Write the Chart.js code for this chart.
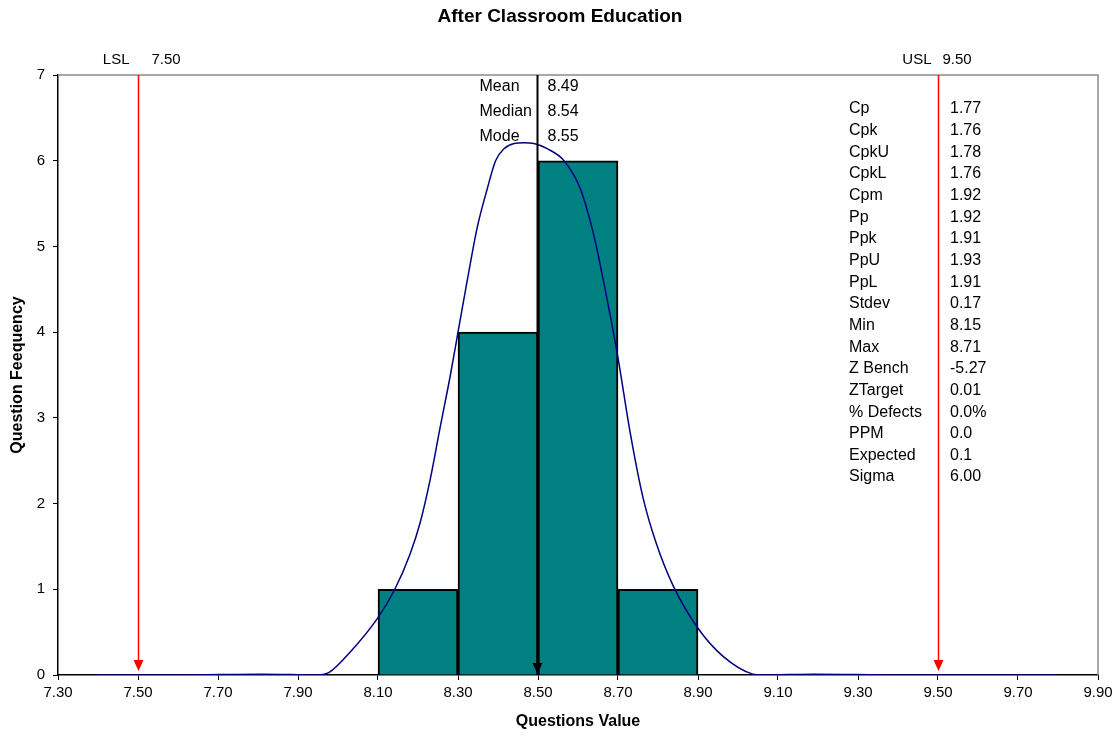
<!DOCTYPE html>
<html>
<head>
<meta charset="utf-8">
<title>After Classroom Education</title>
<script src="https://cdn.jsdelivr.net/npm/chart.js@4.4.1/dist/chart.umd.min.js"></script>
<style>
    html, body { margin: 0; padding: 0; background: #fff; }
    #wrap { width: 1120px; height: 736px; }
</style>
</head>
<body>
<div id="wrap"><canvas id="histChart" width="1120" height="736"></canvas></div>
<script>
// данные гистограммы
const binCenters = [8.2, 8.4, 8.6, 8.8];
const binCounts = [1, 4, 6, 1];

// кривая нормального распределения
const curveX = [7.40, 7.60, 7.81, 7.95, 7.978, 8.029, 8.10, 8.142, 8.18, 8.205, 8.23, 8.255, 8.281, 8.30, 8.323, 8.348, 8.373, 8.394, 8.415, 8.44, 8.465, 8.49,
                8.523, 8.565, 8.606, 8.639, 8.672, 8.70, 8.73, 8.763, 8.796, 8.838, 8.90, 8.962, 9.037, 9.06, 9.19, 9.40, 9.60, 9.80];
const curveY = [0, 0, 0.01, 0, 0.03, 0.26, 0.67, 1.0, 1.41, 1.77, 2.27, 2.88, 3.50, 4.0, 4.60, 5.22, 5.67, 6.0, 6.14, 6.20, 6.21, 6.20,
                6.14, 6.0, 5.67, 5.14, 4.40, 3.70, 2.84, 2.06, 1.53, 1.04, 0.545, 0.22, 0.01, 0, 0.01, 0, 0, 0];

const xTicks = [7.30, 7.50, 7.70, 7.90, 8.10, 8.30, 8.50, 8.70, 8.90, 9.10, 9.30, 9.50, 9.70, 9.90];
const yTicks = [0, 1, 2, 3, 4, 5, 6, 7];

const specNames = ['LSL', 'USL'];
const specValues = [7.50, 9.50];
const meanMarker = 8.50;

const centerLabels = ['Mean', 'Median', 'Mode'];
const centerValues = ['8.49', '8.54', '8.55'];

const statLabels = ['Cp', 'Cpk', 'CpkU', 'CpkL', 'Cpm', 'Pp', 'Ppk', 'PpU', 'PpL', 'Stdev', 'Min', 'Max', 'Z Bench', 'ZTarget', '% Defects', 'PPM', 'Expected', 'Sigma'];
const statValues = ['1.77', '1.76', '1.78', '1.76', '1.92', '1.92', '1.91', '1.93', '1.91', '0.17', '8.15', '8.71', '-5.27', '0.01', '0.0%', '0.0', '0.1', '6.00'];

const FONT = '"Liberation Sans", Arial, sans-serif';

function arrowDown(ctx, x, tipY, color) {
    ctx.fillStyle = color;
    ctx.beginPath();
    ctx.moveTo(x, tipY);
    ctx.lineTo(x - 5, tipY - 11);
    ctx.lineTo(x + 5, tipY - 11);
    ctx.closePath();
    ctx.fill();
}

// рамка, линии допусков, среднее и текстовые подписи
const overlayPlugin = {
    id: 'overlay',
    afterDatasetsDraw(chart) {
        const ctx = chart.ctx;
        const area = chart.chartArea;
        const xs = chart.scales.x;
        ctx.save();

        // серая рамка сверху и справа
        ctx.strokeStyle = '#8c8c8c';
        ctx.lineWidth = 1.5;
        ctx.beginPath();
        ctx.moveTo(area.left, area.top);
        ctx.lineTo(area.right, area.top);
        ctx.lineTo(area.right, area.bottom);
        ctx.stroke();

        // LSL / USL
        specValues.forEach((v, i) => {
            const px = Math.round(xs.getPixelForValue(v)) + 0.5;
            ctx.strokeStyle = '#ff0000';
            ctx.lineWidth = 1.5;
            ctx.beginPath();
            ctx.moveTo(px, area.top);
            ctx.lineTo(px, area.bottom - 12);
            ctx.stroke();
            arrowDown(ctx, px, area.bottom - 4, '#ff0000');

            ctx.fillStyle = '#000';
            ctx.font = '15px ' + FONT;
            ctx.textBaseline = 'middle';
            ctx.textAlign = 'right';
            ctx.fillText(specNames[i], px - (i === 0 ? 9 : 7), area.top - 15);
            ctx.textAlign = 'left';
            ctx.fillText(specValues[i].toFixed(2), px + (i === 0 ? 13 : 4), area.top - 15);
        });

        // линия среднего
        const mx = Math.round(xs.getPixelForValue(meanMarker)) - 0.5;
        ctx.strokeStyle = '#000';
        ctx.lineWidth = 2;
        ctx.beginPath();
        ctx.moveTo(mx, area.top);
        ctx.lineTo(mx, area.bottom - 10);
        ctx.stroke();
        arrowDown(ctx, mx, area.bottom - 1, '#000');

        ctx.font = '16px ' + FONT;
        ctx.fillStyle = '#000';
        ctx.textBaseline = 'middle';
        ctx.textAlign = 'left';
        centerLabels.forEach((lab, i) => {
            const y = area.top + 12 + i * 25;
            ctx.fillText(lab, mx - 58, y);
            ctx.fillText(centerValues[i], mx + 10, y);
        });

        // таблица показателей
        ctx.font = '16px ' + FONT;
        statLabels.forEach((lab, i) => {
            const y = area.top + 34 + i * 21.65;
            ctx.fillText(lab, area.left + 791, y);
            ctx.fillText(statValues[i], area.left + 892, y);
        });

        // заголовок
        ctx.font = 'bold 19px ' + FONT;
        ctx.textAlign = 'center';
        ctx.fillText('After Classroom Education', chart.width / 2, 17);
        ctx.restore();
    }
};

const ctx = document.getElementById('histChart').getContext('2d');
new Chart(ctx, {
    type: 'bar',
    data: {
        datasets: [
            {
                type: 'line',
                data: curveX.map((x, i) => ({ x: x, y: curveY[i] })),
                borderColor: '#000080',
                borderWidth: 1.5,
                pointRadius: 0,
                fill: false,
                cubicInterpolationMode: 'monotone',
                order: 1
            },
            {
                type: 'bar',
                data: binCenters.map((x, i) => ({ x: x, y: binCounts[i] })),
                backgroundColor: '#008080',
                borderColor: '#000',
                borderWidth: 2,
                barPercentage: 1,
                categoryPercentage: 1,
                order: 2
            }
        ]
    },
    options: {
        responsive: false,
        animation: false,
        layout: { padding: { top: 75, right: 22, left: 0, bottom: 0 } },
        plugins: { legend: { display: false }, tooltip: { enabled: false } },
        scales: {
            x: {
                type: 'linear',
                offset: false,
                min: 7.3, max: 9.9,
                afterBuildTicks: s => { s.ticks = xTicks.map(v => ({ value: v })); },
                afterFit: s => { s.height = 61; },
                ticks: {
                    color: '#000', padding: 4, maxRotation: 0, autoSkip: false,
                    font: { family: FONT, size: 15 },
                    callback: v => Number(v).toFixed(2)
                },
                grid: { offset: false, drawOnChartArea: false, drawTicks: true, tickLength: 5, color: '#000' },
                border: { display: true, color: '#000', width: 1.5 },
                title: {
                    display: true, text: 'Questions Value', color: '#000',
                    font: { family: FONT, size: 16, weight: 'bold' },
                    padding: { top: 0, bottom: 5 }
                }
            },
            y: {
                min: 0, max: 7,
                afterBuildTicks: s => { s.ticks = yTicks.map(v => ({ value: v })); },
                afterFit: s => { s.width = 58; },
                ticks: { color: '#000', padding: 8, font: { family: FONT, size: 15 } },
                grid: { drawOnChartArea: false, drawTicks: true, tickLength: 5, color: '#000' },
                border: { display: true, color: '#000', width: 1.5 },
                title: {
                    display: true, text: 'Question Feequency', color: '#000',
                    font: { family: FONT, size: 16, weight: 'bold' },
                    padding: { top: 8, bottom: 0 }
                }
            }
        }
    },
    plugins: [overlayPlugin]
});
</script>
</body>
</html>
